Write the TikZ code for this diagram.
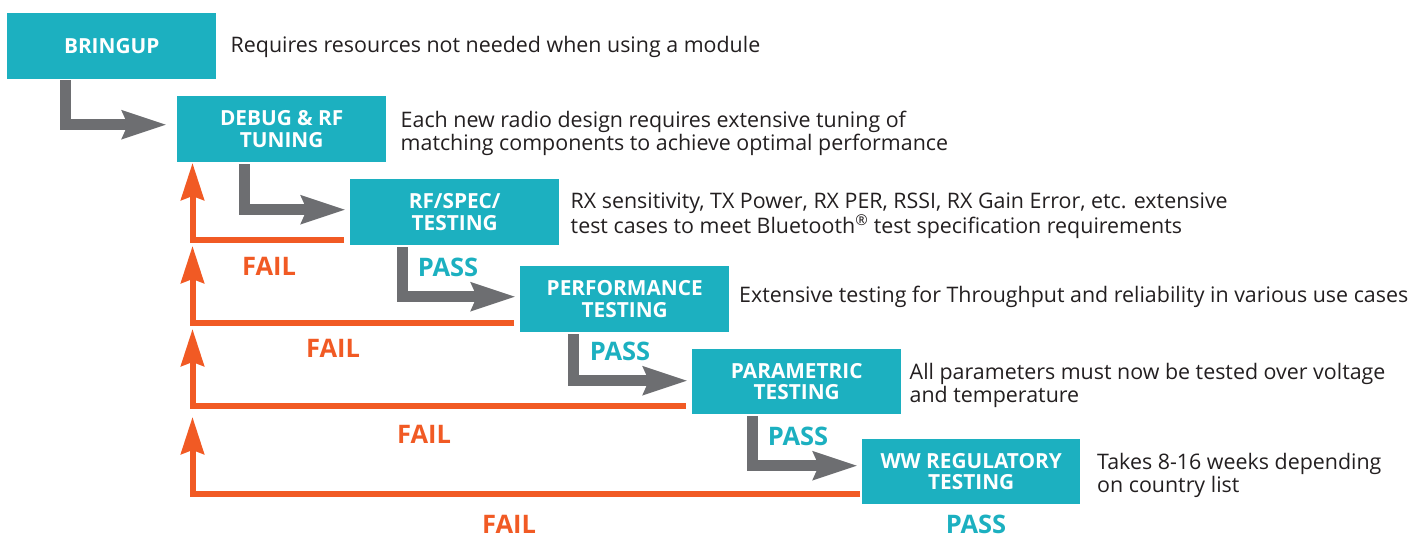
\documentclass[tikz,border=0pt]{standalone}
\usepackage{fontspec}
\setmainfont{Open Sans}
\usetikzlibrary{arrows.meta}
\definecolor{boxteal}{HTML}{1CB0C0}
\definecolor{failorange}{HTML}{F15A24}
\definecolor{passgray}{HTML}{6D6E71}
\definecolor{textblack}{HTML}{231F20}
\begin{document}
\begin{tikzpicture}[x=1pt,y=-1pt,
  stage/.style={fill=boxteal, text=white, font=\bfseries\fontsize{20.8}{21.4}\selectfont,
    align=center, minimum width=209pt, minimum height=66pt, inner sep=0pt, anchor=north west},
  desc/.style={anchor=base west, align=left, inner sep=0pt,
    font=\fontsize{21.4}{23.3}\selectfont, text=textblack},
  okarrow/.style={draw=passgray, line width=11pt, line join=miter,
    -{Stealth[length=44pt,width=27pt,inset=5pt]}},
  failarrow/.style={draw=failorange, line width=6pt, line join=miter,
    -{Stealth[length=37pt,width=23pt,inset=4pt]}},
  faillabel/.style={text=failorange, font=\bfseries\fontsize{25.5}{26}\selectfont, inner sep=0pt},
  passlabel/.style={text=boxteal, font=\bfseries\fontsize{25.5}{26}\selectfont, inner sep=0pt}]
\useasboundingbox (0,0) rectangle (1424,537);

% stages
\node[stage] (bringup) at (7,13) {BRINGUP};
\node[stage] (debug) at (177,96) {DEBUG \& RF\\TUNING};
\node[stage] (rfspec) at (350,179) {RF/SPEC/\\TESTING};
\node[stage] (perf) at (520,266) {PERFORMANCE\\TESTING};
\node[stage, minimum height=65pt] (param) at (692,349) {PARAMETRIC\\TESTING};
\node[stage, minimum width=218pt, minimum height=65pt] (ww) at (862,439) {WW REGULATORY\\TESTING};

% descriptions (base = baseline of last line)
\node[desc] (d1) at (230.5,52.8) {Requires resources not needed when using a module};
\node[desc] (d2) at (400.5,150.6) {Each new radio design requires extensive tuning of\\matching components to achieve optimal performance};
\node[desc] (d3) at (570.5,233.3) {RX sensitivity, TX Power, RX PER, RSSI, RX Gain Error, etc. extensive\\test cases to meet Bluetooth\textsuperscript{®} test specification requirements};
\node[desc] (d4) at (739,303) {Extensive testing for Throughput and reliability in various use cases};
\node[desc] (d5) at (909.5,402.5) {All parameters must now be tested over voltage\\and temperature};
\node[desc] (d6) at (1097,492.5) {Takes 8-16 weeks depending\\on country list};

% pass arrows
\draw[okarrow] ([xshift=58.5pt,yshift=-1pt]bringup.south west) |- ([xshift=-10pt,yshift=4.5pt]debug.west);
\draw[okarrow] ([xshift=67.5pt,yshift=-2pt]debug.south west) |- ([xshift=-4pt,yshift=2.5pt]rfspec.west);
\draw[okarrow] ([xshift=52pt,yshift=-2pt]rfspec.south west) |- ([xshift=-4pt,yshift=2.5pt]perf.west);
\draw[okarrow] ([xshift=53.5pt,yshift=-2pt]perf.south west) |- ([xshift=-4pt,yshift=1pt]param.west);
\draw[okarrow] ([xshift=60pt,yshift=-2pt]param.south west) |- ([xshift=-4pt,yshift=6pt]ww.west);

% fail arrows
\coordinate (t1) at (192.5,163);
\coordinate (t2) at (192.5,246);
\coordinate (t3) at (192.5,329);
\coordinate (t4) at (192.5,417);
\draw[failarrow] ([xshift=-6pt,yshift=5pt]rfspec.south west) -| (t1);
\draw[failarrow] ([xshift=-6pt,yshift=9pt]perf.south west) -| (t2);
\draw[failarrow] ([xshift=-6pt,yshift=8pt]param.south west) -| (t3);
\draw[failarrow] ([xshift=-2pt,yshift=10pt]ww.south west) -| (t4);

% labels
\node[faillabel] (f1) at (269,266) {FAIL};
\node[faillabel] (f2) at (333,348) {FAIL};
\node[faillabel] (f3) at (424,434) {FAIL};
\node[faillabel] (f4) at (509,524.5) {FAIL};
\node[passlabel] (p1) at (448,267) {PASS};
\node[passlabel] (p2) at (620,351) {PASS};
\node[passlabel] (p3) at (798,436) {PASS};
\node[passlabel] (p4) at (976,524.5) {PASS};
\end{tikzpicture}
\end{document}
